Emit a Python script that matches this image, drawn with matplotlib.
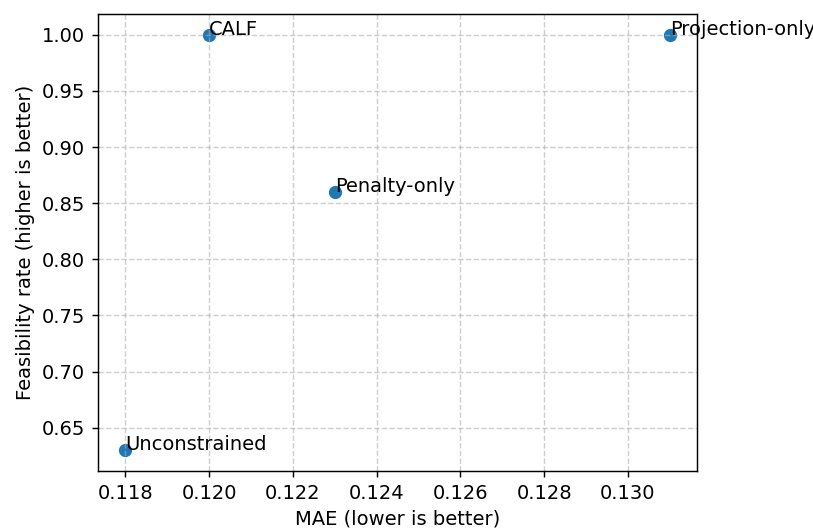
import matplotlib
matplotlib.use("Agg")
import matplotlib.pyplot as plt

# Methods and their scores
methods = ["Unconstrained", "CALF", "Penalty-only", "Projection-only"]
mae = [0.118, 0.120, 0.123, 0.131]
feasibility = [0.63, 1.00, 0.86, 1.00]

plt.rcParams["font.size"] = 10.8

fig = plt.figure(figsize=(813 / 130, 532 / 130), dpi=130)
ax = fig.add_axes([98 / 813, 1 - 471 / 532, (697 - 98) / 813, (471 - 14) / 532])

ax.scatter(mae, feasibility, s=40)
for name, x, y in zip(methods, mae, feasibility):
    ax.text(x, y, name)

ax.set_xlabel("MAE (lower is better)")
ax.set_ylabel("Feasibility rate (higher is better)")
ax.grid(True, linestyle="--", alpha=0.6)

fig.savefig("out.png", dpi=130)
